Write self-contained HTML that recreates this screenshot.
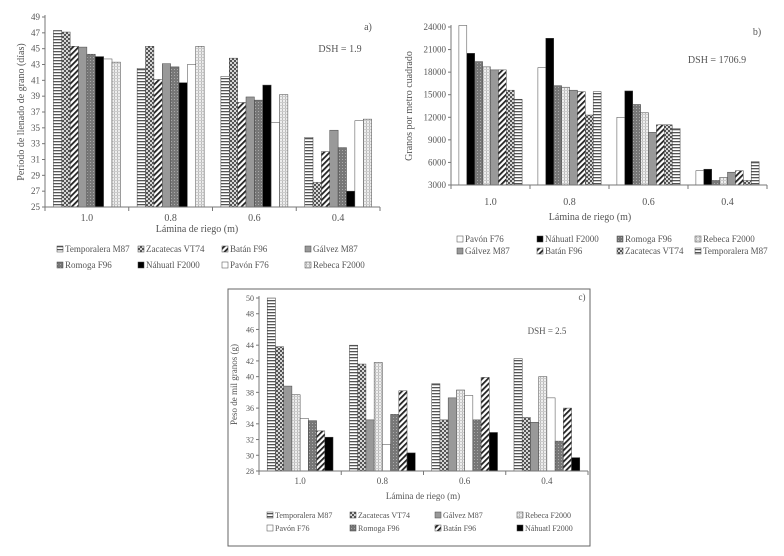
<!DOCTYPE html>
<html><head><meta charset="utf-8">
<style>
html,body{margin:0;padding:0;background:#fff;}
svg{display:block;font-family:"Liberation Serif",serif;}
</style></head>
<body>
<svg id="fig" width="784" height="556" viewBox="0 0 784 556" xmlns="http://www.w3.org/2000/svg">
<defs>
<pattern id="p-hstripe" width="4" height="3" patternUnits="userSpaceOnUse"><rect width="4" height="3" fill="#fff"/><rect y="0" width="4" height="1.3" fill="#555"/></pattern>
<pattern id="p-dots" width="4" height="4" patternUnits="userSpaceOnUse"><rect width="4" height="4" fill="#555"/><circle cx="1" cy="1" r="1" fill="#fff"/><circle cx="3" cy="3" r="1" fill="#fff"/></pattern>
<pattern id="p-diag" width="4" height="4" patternUnits="userSpaceOnUse" patternTransform="rotate(45)"><rect width="4" height="4" fill="#fff"/><rect width="1.8" height="4" fill="#222"/></pattern>
<pattern id="p-romoga" width="3" height="3" patternUnits="userSpaceOnUse"><rect width="3" height="3" fill="#777"/><rect width="1" height="1" fill="#aaa"/></pattern>
<pattern id="p-grid" width="3" height="3" patternUnits="userSpaceOnUse"><rect width="3" height="3" fill="#eee"/><rect width="1" height="3" fill="#bbb"/><rect width="3" height="1" fill="#ccc"/></pattern>
</defs>
<rect x="228" y="289" width="362" height="257" fill="none" stroke="#666" stroke-width="1"/>
</svg>
<script>
const categories = ["1.0","0.8","0.6","0.4"];
// Panel a
const seriesA = ["Temporalera M87","Zacatecas VT74","Batán F96","Gálvez M87","Romoga F96","Náhuatl F2000","Pavón F76","Rebeca F2000"];
const valuesA = [
 [47.3,42.5,41.5,33.8],
 [47.1,45.3,43.8,28.1],
 [45.3,41.1,38.2,32.0],
 [45.2,43.1,38.9,34.7],
 [44.3,42.7,38.5,32.5],
 [44.0,40.7,40.4,27.0],
 [43.7,43.0,35.7,35.9],
 [43.3,45.3,39.2,36.1]
];
const ticksA = [25,27,29,31,33,35,37,39,41,43,45,47,49];
// Panel b
const seriesB = ["Pavón F76","Náhuatl F2000","Romoga F96","Rebeca F2000","Gálvez M87","Batán F96","Zacatecas VT74","Temporalera M87"];
const valuesB = [
 [24200,18600,12000,4900],
 [20500,22500,15500,5100],
 [19400,16200,13700,3600],
 [18700,16000,12600,4000],
 [18300,15600,10000,4700],
 [18300,15400,11000,4900],
 [15600,12300,11000,3600],
 [14400,15400,10500,6100]
];
const ticksB = [3000,6000,9000,12000,15000,18000,21000,24000];
// Panel c
const seriesC = ["Temporalera M87","Zacatecas VT74","Gálvez M87","Rebeca F2000","Pavón F76","Romoga F96","Batán F96","Náhuatl F2000"];
const valuesC = [
 [50.0,44.0,39.1,42.3],
 [43.8,41.6,34.5,34.8],
 [38.8,34.5,37.3,34.2],
 [37.7,41.8,38.3,40.0],
 [34.7,31.4,37.6,37.3],
 [34.4,35.2,34.5,31.8],
 [33.1,38.2,39.9,36.0],
 [32.3,30.3,32.9,29.7]
];
const ticksC = [28,30,32,34,36,38,40,42,44,46,48,50];

const fills = {
 "Temporalera M87":"url(#p-hstripe)",
 "Zacatecas VT74":"url(#p-dots)",
 "Batán F96":"url(#p-diag)",
 "Gálvez M87":"#999",
 "Romoga F96":"url(#p-romoga)",
 "Náhuatl F2000":"#000",
 "Pavón F76":"#fff",
 "Rebeca F2000":"url(#p-grid)"
};
const NS="http://www.w3.org/2000/svg";
const svg=document.getElementById('fig');
function mk(tag,attrs,parent,text){
 const e=document.createElementNS(NS,tag);
 for(const k in attrs) e.setAttribute(k,attrs[k]);
 if(text!==undefined) e.textContent=text;
 (parent||svg).appendChild(e);
 return e;
}
function slug(s){return s.toLowerCase().normalize('NFD').replace(/[\u0300-\u036f]/g,'').replace(/[^a-z0-9]+/g,'-');}

function drawChart(c, series, values, ticks){
 const g=mk('g',{});
 
 
 const ymin=ticks[0], ymax=ticks[ticks.length-1];
 const yS=v=>c.bottom-(v-ymin)/(ymax-ymin)*(c.bottom-c.top);
 const gw=(c.right-c.left)/categories.length;
 const bw=gw*0.8/series.length;
 // bars
 series.forEach((s,si)=>{
  values[si].forEach((v,ci)=>{
   const x=c.left+ci*gw+gw*0.1+si*bw;
   const y=yS(v);
   const r=mk('rect',{x:x,y:y,width:bw,height:c.bottom-y,fill:fills[s],stroke:'#444','stroke-width':0.5},g);
   
   
  });
 });
 // axes
 const ya=mk('line',{x1:c.left,y1:c.top-2,x2:c.left,y2:c.bottom,stroke:'#777','stroke-width':1},g);
 
 
 const xa=mk('line',{x1:c.left,y1:c.bottom,x2:c.right,y2:c.bottom,stroke:'#777','stroke-width':1},g);
 
 
 ticks.forEach(t=>{
  const y=yS(t);
  mk('line',{x1:c.left-3,y1:y,x2:c.left,y2:y,stroke:'#777'},g);
  const tl=mk('text',{x:c.left-5,y:y+3,'text-anchor':'end','font-size':c.fs,fill:'#555'},g,String(t));
  
  
 });
 for(let i=0;i<=categories.length;i++){
  const x=c.left+i*gw;
  mk('line',{x1:x,y1:c.bottom,x2:x,y2:c.bottom+4,stroke:'#777'},g);
 }
 categories.forEach((cat,ci)=>{
  const tl=mk('text',{x:c.left+ci*gw+gw/2,y:c.catY,'text-anchor':'middle','font-size':c.fs+1,fill:'#555'},g,cat);
  
  
 });
 const xt=mk('text',{x:c.xtX,y:c.xtY,'text-anchor':'middle','font-size':c.fs+1,fill:'#555'},g,'Lámina de riego (m)');
 
 
 const yt=mk('text',{x:0,y:0,'text-anchor':'middle','font-size':c.fs+1,fill:'#555',transform:'translate('+c.ytX+','+((c.top+c.bottom)/2)+') rotate(-90)'},g,c.ytitle);
 
 
 const pl=mk('text',{x:c.plX,y:c.plY,'text-anchor':'middle','font-size':c.fs+1,fill:'#555'},g,c.id.slice(-1)+')');
 
 
 const ds=mk('text',{x:c.dsX,y:c.dsY,'text-anchor':'middle','font-size':c.fs+1,fill:'#555'},g,c.dsh);
 
 
 // legend
 series.forEach((s,si)=>{
  const col=si%4,row=Math.floor(si/4);
  const lx=c.legX[col], ly=c.legY[row];
  const le=mk('g',{},g);
  
  
  mk('rect',{x:lx,y:ly-6,width:6,height:6,fill:fills[s],stroke:'#444','stroke-width':0.5},le);
  mk('text',{x:lx+8,y:ly,'font-size':c.fs,fill:'#555'},le,s);
 });
}

drawChart({id:'panel-a',left:45,right:380,top:17,bottom:207,fs:9,catY:221,xtX:197,xtY:232,ytX:24,ytitle:'Período de llenado de grano (días)',plX:368,plY:30,dsX:340,dsY:52,dsh:'DSH = 1.9',legX:[57,138,222,305],legY:[252,268]},seriesA,valuesA,ticksA);
drawChart({id:'panel-b',left:451,right:767,top:27,bottom:185,fs:9,catY:205,xtX:590,xtY:220,ytX:412,ytitle:'Granos por metro cuadrado',plX:757,plY:35,dsX:717,dsY:63,dsh:'DSH = 1706.9',legX:[457,537,617,695],legY:[242,254]},seriesB,valuesB,ticksB);
drawChart({id:'panel-c',left:259,right:588,top:298,bottom:471,fs:8,catY:484,xtX:423,xtY:499,ytX:237,ytitle:'Peso de mil granos (g)',plX:582,plY:300,dsX:547,dsY:334,dsh:'DSH = 2.5',legX:[267,350,435,517],legY:[518,531]},seriesC,valuesC,ticksC);
</script>
</body></html>
